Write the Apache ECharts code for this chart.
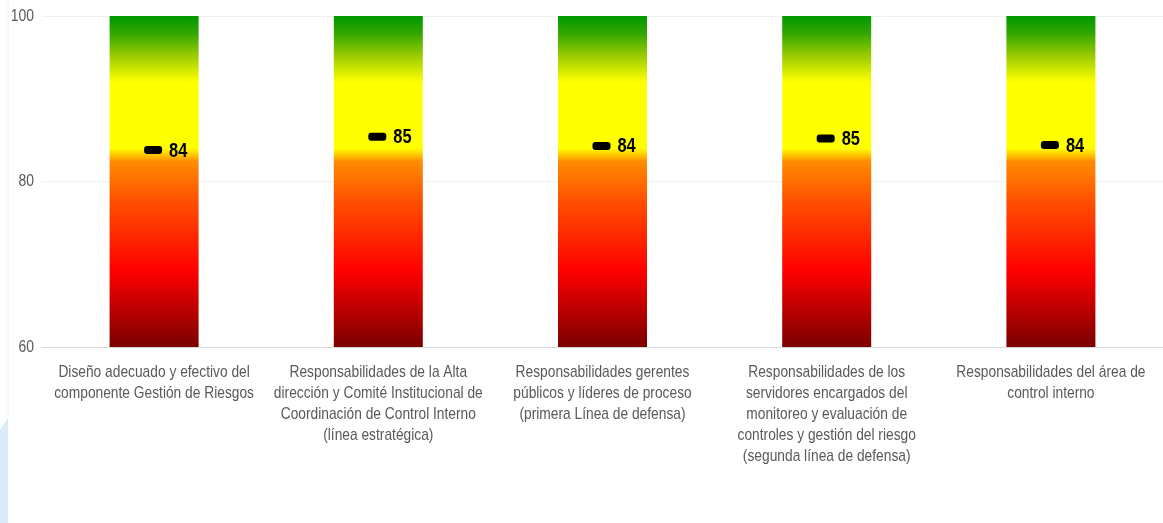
<!DOCTYPE html>
<html>
<head>
<meta charset="utf-8">
<script src="https://cdn.jsdelivr.net/npm/echarts@6/dist/echarts.min.js"></script>
<style>
html,body{margin:0;padding:0;background:#fff;}
#c{width:1163px;height:523px;}
</style>
</head>
<body>
<div id="c"></div>
<script>
const categories = [
  "Diseño adecuado y efectivo del\ncomponente Gestión de Riesgos",
  "Responsabilidades de la Alta\ndirección y Comité Institucional de\nCoordinación de Control Interno\n(línea estratégica)",
  "Responsabilidades gerentes\npúblicos y líderes de proceso\n(primera Línea de defensa)",
  "Responsabilidades de los\nservidores encargados del\nmonitoreo y evaluación de\ncontroles y gestión del riesgo\n(segunda línea de defensa)",
  "Responsabilidades del área de\ncontrol interno"
];
const scaleMax = [100, 100, 100, 100, 100];
const scores = [83.8, 85.4, 84.3, 85.2, 84.4];
const scoreLabels = ["84", "85", "84", "85", "84"];
const yTicks = { min: 60, max: 100, interval: 20 };

const FONT = "'Liberation Sans', Arial, sans-serif";
const chart = echarts.init(document.getElementById('c'), null, {renderer: 'canvas'});

const grad = new echarts.graphic.LinearGradient(0, 0, 0, 1, [
  {offset: 0.00, color: '#009900'},
  {offset: 0.05, color: '#30a500'},
  {offset: 0.12, color: '#99cc00'},
  {offset: 0.20, color: '#ffff00'},
  {offset: 0.40, color: '#ffff00'},
  {offset: 0.44, color: '#ff8c00'},
  {offset: 0.56, color: '#ff5000'},
  {offset: 0.77, color: '#ff0000'},
  {offset: 1.00, color: '#7a0000'}
]);

chart.setOption({
  animation: false,
  backgroundColor: '#ffffff',
  grid: {left: 42, top: 16, width: 1125, height: 331, containLabel: false},
  xAxis: {
    type: 'category',
    data: categories,
    axisTick: {show: false},
    axisLine: {show: true, lineStyle: {color: '#d9d9d9', width: 1}},
    axisLabel: {show: false}
  },
  yAxis: {
    type: 'value',
    min: yTicks.min, max: yTicks.max, interval: yTicks.interval,
    axisLine: {show: false},
    axisTick: {show: false},
    splitLine: {lineStyle: {color: '#f0f0f0', width: 1}},
    axisLabel: {show: false}
  },
  series: [
    {
      type: 'bar',
      data: scaleMax,
      barWidth: 89,
      itemStyle: {color: grad},
      silent: true,
      z: 2
    },
    {
      type: 'custom',
      data: scores.map((v, i) => [i, v]),
      z: 5,
      silent: true,
      renderItem: function (params, api) {
        const p = api.coord([api.value(0), api.value(1)]);
        const cx = p[0] - 1;
        return {
          type: 'group',
          children: [
            {type: 'rect', shape: {x: cx - 9, y: p[1] - 4, width: 18, height: 8, r: 3},
             style: {fill: '#000000'}},
            {type: 'text', x: cx + 16, y: p[1] + 1, scaleX: 0.82,
             style: {text: scoreLabels[params.dataIndex], fill: '#000000',
                     font: 'bold 20px ' + FONT, textAlign: 'left', textVerticalAlign: 'middle'}}
          ]
        };
      }
    },
    {
      type: 'custom',
      data: categories.map((c, i) => [i, yTicks.min]),
      z: 5,
      silent: true,
      clip: false,
      renderItem: function (params, api) {
        const p = api.coord([api.value(0), api.value(1)]);
        return {
          type: 'text', x: p[0], y: p[1] + 15, scaleX: 0.81,
          style: {text: categories[params.dataIndex], fill: '#595959',
                  font: '17px ' + FONT, lineHeight: 21,
                  textAlign: 'center', textVerticalAlign: 'top'}
        };
      }
    },
    {
      type: 'custom',
      data: [60, 80, 100].map(v => [0, v]),
      z: 5,
      silent: true,
      clip: false,
      renderItem: function (params, api) {
        const p = api.coord([api.value(0), api.value(1)]);
        const x0 = params.coordSys.x;
        return {
          type: 'text', x: x0 - 8, y: p[1], scaleX: 0.82,
          style: {text: String(api.value(1)), fill: '#595959',
                  font: '17px ' + FONT,
                  textAlign: 'right', textVerticalAlign: 'middle'}
        };
      }
    }
  ],
  graphic: [
    {type: 'line', shape: {x1: 8, y1: 0, x2: 8, y2: 418}, style: {stroke: '#eef2f6', lineWidth: 1}, silent: true},
    {type: 'polygon', shape: {points: [[0, 430], [8, 418], [8, 523], [0, 523]]}, style: {fill: '#d8ecfc'}, silent: true}
  ]
});
</script>
</body>
</html>
